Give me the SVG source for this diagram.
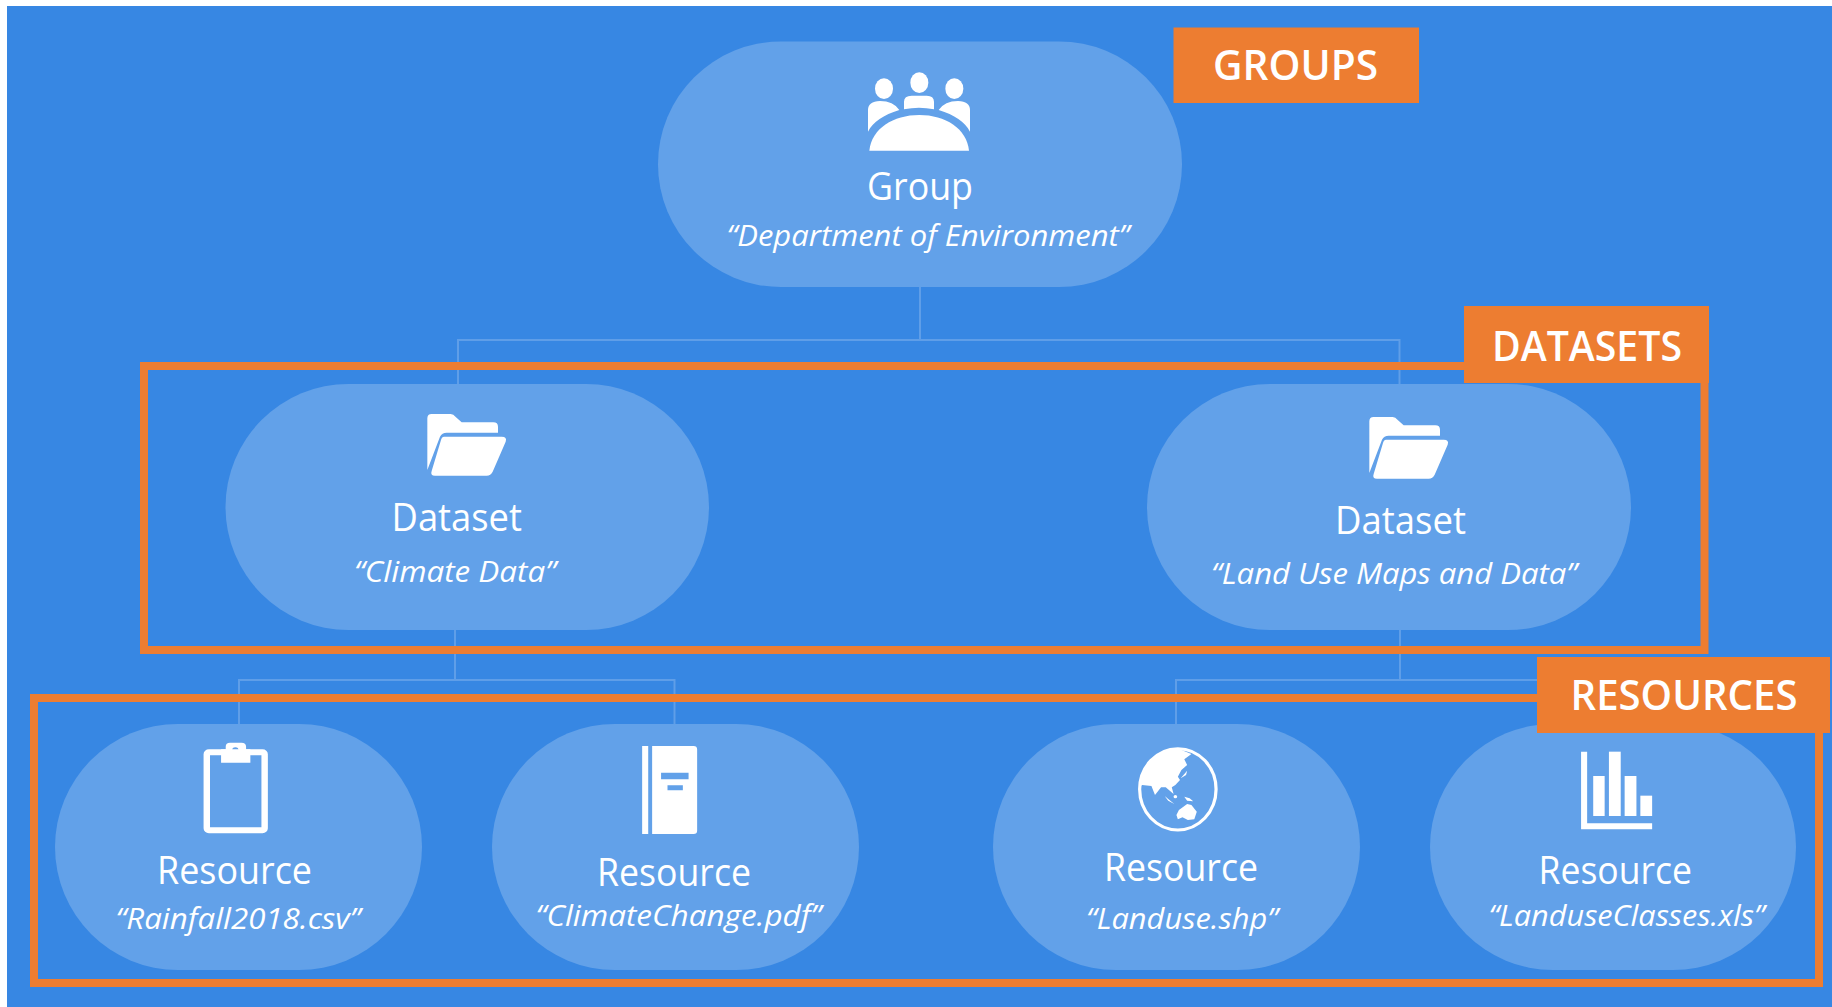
<svg xmlns="http://www.w3.org/2000/svg" width="1832" height="1007" viewBox="0 0 1832 1007">
<defs>
<style>
.pill{fill:#62a1e9}
.conn{fill:none;stroke:#5f9ee8;stroke-width:2}
.frame{fill:none;stroke:#ed7d31;stroke-width:8}
.tag{fill:#ed7d31}
.icon{fill:#fff}
text{fill:#fff;font-family:"Open Sans","Noto Sans","Liberation Sans",sans-serif}
.title{font-size:38px}
.sub{font-size:30px;font-style:italic}
.badge{font-size:41px;font-weight:600}
</style>
<g id="folder"><path class="icon" d="M142 85Q142 72 155 72H212Q220 72 228 82L245 97H340Q354 97 354 110V128H200Q186 128 180 140L142 240Z"/><path class="icon" d="M192 140H365Q382 140 377 155L338 245Q332 257 320 257H165Q150 257 155 243L183 150Q186 140 192 140Z"/></g>
</defs>
<rect x="0" y="0" width="1832" height="1007" fill="#fff"/>
<rect x="7" y="6" width="1825" height="1001" fill="#3787e3"/>
<g id="connectors">
<path class="conn" d="M920 287V340M458 384V340H1399.500V384"/>
<path class="conn" d="M455 630V680M239 724V680H674.500V724"/>
<path class="conn" d="M1400 630V680M1176 724V680H1620V724"/>
</g>
<g id="node-group">
<rect class="pill" x="658" y="41.500" width="524" height="245.500" rx="123" ry="122.750"/>
<g transform="translate(840 60) scale(.33333)">
<ellipse class="icon" cx="132" cy="86" rx="27" ry="31"/><ellipse class="icon" cx="238" cy="68" rx="27" ry="31"/><ellipse class="icon" cx="343" cy="86" rx="27" ry="31"/>
<path class="icon" d="M88 272C95 205 160 165 238 165C316 165 380 205 387 272Z"/>
<path class="icon" d="M84 215V150Q84 125 120 123Q160 123 178 150C130 165 100 185 84 215Z"/>
<path class="icon" d="M390 215V150Q390 125 354 123Q314 123 296 150C344 165 374 185 390 215Z"/>
<path class="icon" d="M192 148V125Q192 107 215 107H260Q282 107 282 125V148Q237 138 192 148Z"/>
</g>
<text class="title" x="867" y="199.500" textLength="106" lengthAdjust="spacingAndGlyphs">Group</text>
<text class="sub" x="726.500" y="246" textLength="403" lengthAdjust="spacingAndGlyphs">“Department of Environment”</text>
</g>
<g id="node-dataset-1">
<rect class="pill" x="225.500" y="384" width="483.500" height="246" rx="123" ry="123"/>
<use href="#folder" transform="translate(380 390) scale(.33333)"/>
<text class="title" x="391.500" y="531" textLength="130.500" lengthAdjust="spacingAndGlyphs">Dataset</text>
<text class="sub" x="354" y="582" textLength="202" lengthAdjust="spacingAndGlyphs">“Climate Data”</text>
</g>
<g id="node-dataset-2">
<rect class="pill" x="1147" y="384" width="484" height="246" rx="123" ry="123"/>
<use href="#folder" transform="translate(1322 393) scale(.33333)"/>
<text class="title" x="1335" y="534" textLength="131" lengthAdjust="spacingAndGlyphs">Dataset</text>
<text class="sub" x="1211" y="584" textLength="366" lengthAdjust="spacingAndGlyphs">“Land Use Maps and Data”</text>
</g>
<g id="node-resource-1">
<rect class="pill" x="55" y="724" width="367" height="246" rx="123" ry="123"/>
<g transform="translate(180 730) scale(.35714 .33333)">
<rect x="75" y="67" width="162" height="234" rx="6" fill="none" stroke="#fff" stroke-width="18"/>
<path class="icon" fill-rule="evenodd" d="M115 98V58H128V50Q128 38 140 38H172Q185 38 185 50V58H197V98ZM146 61A9 9 0 1 0 164 61A9 9 0 1 0 146 61Z"/>
</g>
<text class="title" x="157" y="883.500" textLength="155" lengthAdjust="spacingAndGlyphs">Resource</text>
<text class="sub" x="115.500" y="929" textLength="245" lengthAdjust="spacingAndGlyphs">“Rainfall2018.csv”</text>
</g>
<g id="node-resource-2">
<rect class="pill" x="492" y="724" width="367" height="246" rx="123" ry="123"/>
<g transform="translate(180 730) scale(.35714 .33333)">
<rect class="icon" x="1294" y="48" width="17" height="264"/>
<path class="icon" fill-rule="evenodd" d="M1322 48H1438Q1448 48 1448 58V302Q1448 312 1438 312H1322ZM1347 128V148H1424V128ZM1365 166V181H1408V166Z"/>
</g>
<text class="title" x="597" y="885.500" textLength="154" lengthAdjust="spacingAndGlyphs">Resource</text>
<text class="sub" x="535.500" y="926" textLength="286" lengthAdjust="spacingAndGlyphs">“ClimateChange.pdf”</text>
</g>
<g id="node-resource-3">
<rect class="pill" x="993" y="724" width="367" height="246" rx="123" ry="123"/>
<g transform="translate(1120 730) scale(.35714 .33333)">
<ellipse cx="162" cy="178" rx="107" ry="122" fill="none" stroke="#fff" stroke-width="9"/>
<path class="icon" d="M55 170C60 110 100 60 160 55L200 72L180 88L188 105L172 120L162 140L168 150L155 165L145 172L150 192L128 172L115 172L98 195L88 168L62 165Z"/>
<path class="icon" d="M170 145L188 122L185 135ZM125 198L152 222L135 212ZM180 200L195 205L205 214L188 212ZM158 255L165 240L188 222L200 225L215 245L208 268L190 270L175 262L162 268Z"/>
<circle class="icon" cx="155" cy="200" r="5"/>
</g>
<text class="title" x="1104" y="880.500" textLength="154" lengthAdjust="spacingAndGlyphs">Resource</text>
<text class="sub" x="1086" y="929" textLength="192" lengthAdjust="spacingAndGlyphs">“Landuse.shp”</text>
</g>
<g id="node-resource-4">
<rect class="pill" x="1430" y="724" width="366" height="246" rx="123" ry="123"/>
<g transform="translate(1120 730) scale(.35714 .33333)">
<path class="icon" d="M1291 65H1308V280H1490V298H1291Z"/>
<rect class="icon" x="1325" y="138" width="32" height="120"/>
<rect class="icon" x="1369" y="65" width="33" height="193"/>
<rect class="icon" x="1413" y="138" width="33" height="120"/>
<rect class="icon" x="1457" y="197" width="33" height="61"/>
</g>
<text class="title" x="1538.500" y="883.500" textLength="153.500" lengthAdjust="spacingAndGlyphs">Resource</text>
<text class="sub" x="1488.500" y="926" textLength="276" lengthAdjust="spacingAndGlyphs">“LanduseClasses.xls”</text>
</g>
<g id="frame-datasets"><rect class="frame" x="144" y="366" width="1560.500" height="284"/></g>
<g id="frame-resources"><rect class="frame" x="34" y="698" width="1785" height="285"/></g>
<g id="label-groups">
<rect class="tag" x="1173.500" y="27.500" width="245.500" height="75.500"/>
<text class="badge" x="1213" y="80" textLength="165" lengthAdjust="spacingAndGlyphs">GROUPS</text>
</g>
<g id="label-datasets">
<rect class="tag" x="1464" y="306" width="245" height="77"/>
<text class="badge" x="1492" y="361" textLength="190" lengthAdjust="spacingAndGlyphs">DATASETS</text>
</g>
<g id="label-resources">
<rect class="tag" x="1537" y="657" width="293" height="76"/>
<text class="badge" x="1570.500" y="710" textLength="227" lengthAdjust="spacingAndGlyphs">RESOURCES</text>
</g>
</svg>
